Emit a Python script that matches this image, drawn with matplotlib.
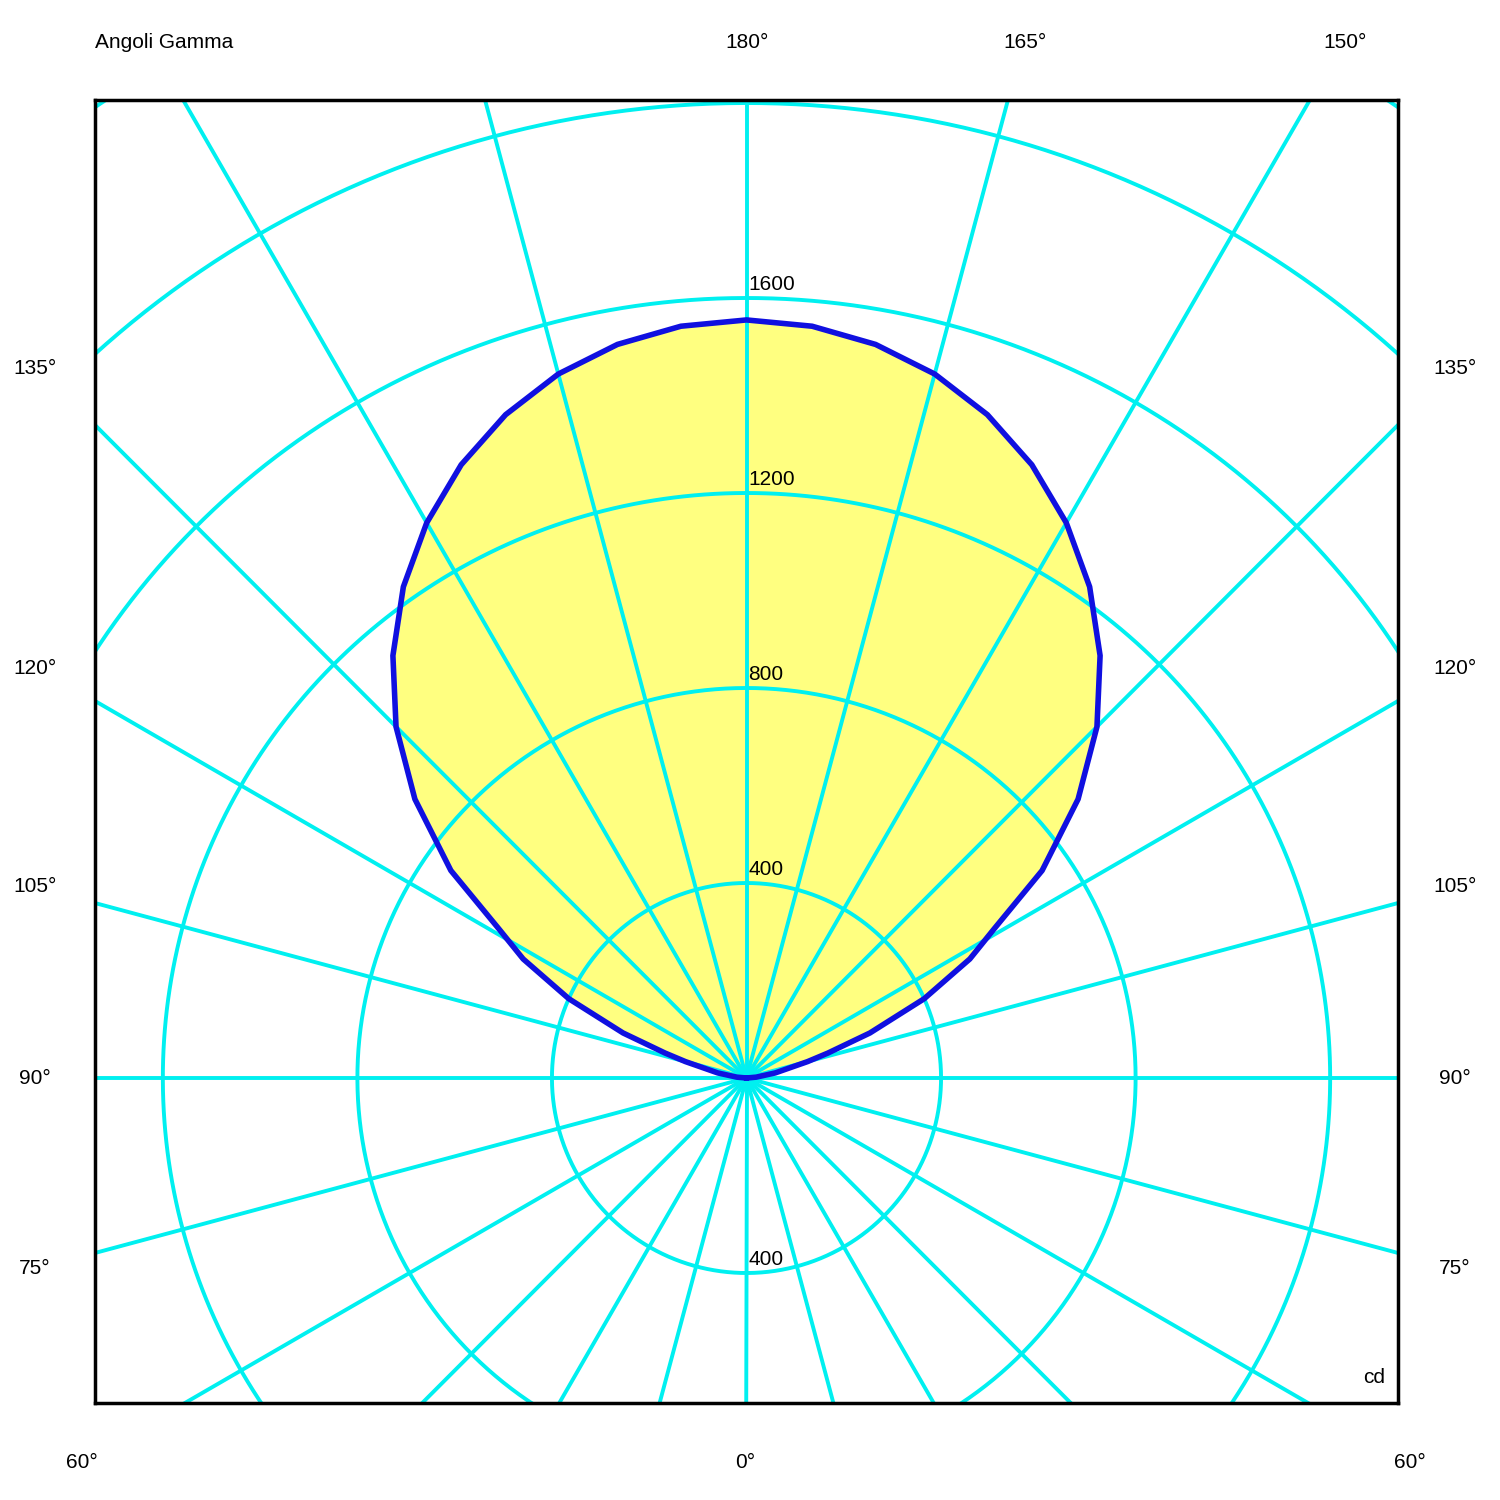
import numpy as np
import matplotlib
matplotlib.use("Agg")
import matplotlib.pyplot as plt

gamma = [90, 95, 100, 105, 107, 110, 114, 118, 121, 125, 130, 135, 140, 145, 150, 155, 160, 165, 170, 175, 180]
intensity = [0, 20, 60, 130, 175, 270, 400, 520, 594, 742, 890, 1019, 1131, 1230, 1315, 1388, 1448, 1495, 1528, 1548, 1555]
ring_values = [400, 800, 1200, 1600, 2000, 2400, 2800]
ring_labels_up = [400, 800, 1200, 1600]
ring_labels_down = [400]
side_labels = ['135°', '120°', '105°', '90°', '75°']
side_label_y = [368, 668, 886, 1078, 1268]
top_labels = ['180°', '165°', '150°']
top_label_x = [747, 1025, 1345]

fig = plt.figure(figsize=(15, 15), dpi=100)
ax = fig.add_axes([95/1500, 97/1500, 1303/1500, 1303/1500])
xmax = 653 / 0.4875
ymin, ymax = -325 / 0.4875, 978 / 0.4875
ax.set_xlim(-xmax, xmax); ax.set_ylim(ymin, ymax)
ax.set_xticks([]); ax.set_yticks([])
for s in ax.spines.values():
    s.set_linewidth(2.5); s.set_zorder(10)

cy = '#00F0F0'
t = np.linspace(0, 2*np.pi, 720)
for a in range(0, 360, 15):
    ar = np.radians(a)
    ax.plot([0, 4000*np.cos(ar)], [0, 4000*np.sin(ar)], color=cy, lw=2.8, zorder=1)
for r in ring_values:
    ax.plot(r*np.cos(t), r*np.sin(t), color=cy, lw=2.8, zorder=1)

g = np.radians(np.array(gamma))
I = np.array(intensity)
xr = I*np.sin(g); yr = -I*np.cos(g)
xs = np.concatenate([xr, -xr[::-1]]); ys = np.concatenate([yr, yr[::-1]])
ax.fill(xs, ys, color='#FFFF80', zorder=0.5)
ax.plot(xs, ys, color='#1010E0', lw=4, zorder=3, solid_joinstyle='round')

fs = 15
for v in ring_labels_up:
    ax.text(4, v + 8, str(v), fontsize=fs, ha='left', va='bottom', zorder=5,
            family='Liberation Sans')
for v in ring_labels_down:
    ax.text(4, -v + 8, str(v), fontsize=fs, ha='left', va='bottom', zorder=5,
            family='Liberation Sans')
ax.text(0.99, 0.012, 'cd', transform=ax.transAxes, fontsize=fs, ha='right', va='bottom',
        family='Liberation Sans')

kw = dict(fontsize=fs, va='center', family='Liberation Sans')
for lab, y in zip(side_labels, side_label_y):
    fig.text(35/1500, 1 - y/1500, lab, ha='center', **kw)
    fig.text(1455/1500, 1 - y/1500, lab, ha='center', **kw)
for lab, x in zip(top_labels, top_label_x):
    fig.text(x/1500, 1 - 42/1500, lab, ha='center', **kw)
fig.text(95/1500, 1 - 42/1500, 'Angoli Gamma', ha='left', **kw)
fig.text(745/1500, 1 - 1463/1500, '0°', ha='center', **kw)
fig.text(82/1500, 1 - 1463/1500, '60°', ha='center', **kw)
fig.text(1410/1500, 1 - 1463/1500, '60°', ha='center', **kw)
fig.savefig('out.png', dpi=100, facecolor='white')
